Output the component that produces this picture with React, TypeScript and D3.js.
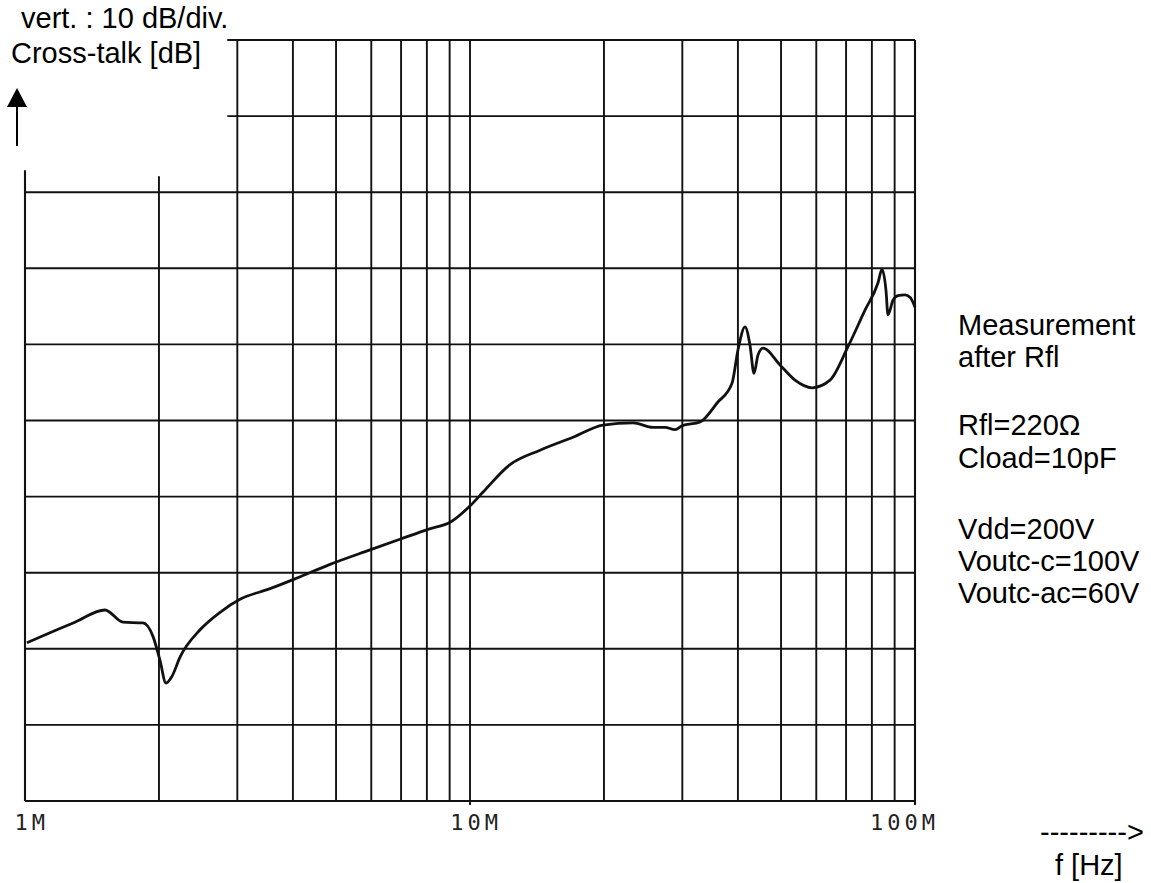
import React, { useEffect, useRef } from 'react';
import * as d3 from 'd3';

// measured cross-talk curve (frequency in MHz, level in dB, top grid line = 0 dB)
const freqMHz = [
  1.01, 1.138, 1.295, 1.513, 1.66, 1.842, 1.94, 2.01, 2.074, 2.14, 2.23, 2.474, 2.744,
  3.042, 3.553, 4.085, 4.847, 5.962, 6.962, 8.046, 9.064, 10.05, 10.7, 12.3, 14.37,
  17.04, 19.9, 23.25, 25.78, 27.43, 28.89, 29.95, 32.88, 35.91, 38.8, 40.02, 41.5,
  42.58, 43.47, 44.38, 45.54, 49.73, 53.75, 58.69, 64.42, 70.7, 77.2, 82.59, 84.3,
  86.06, 86.96, 89.24, 91.58, 94.95, 97.45, 100,
];
const crossTalkDb = [
  -79.2, -77.9, -76.5, -74.9, -76.5, -76.6, -78.4, -81.5, -84.5, -83.6, -81.1, -77.5, -75.2,
  -73.5, -72.1, -70.7, -68.9, -67.0, -65.6, -64.3, -63.3, -61.1, -59.4, -55.8, -53.9,
  -52.2, -50.6, -50.3, -50.9, -50.9, -51.2, -50.7, -50.2, -47.7, -45.1, -40.7, -37.7,
  -40.1, -43.8, -41.4, -40.5, -42.7, -44.7, -45.7, -44.7, -40.3, -35.5, -31.9, -30.1,
  -32.9, -36.1, -34.2, -33.6, -33.5, -33.8, -35.1,
];

const gridFreqs = [1, 2, 3, 4, 5, 6, 7, 8, 9, 10, 20, 30, 40, 50, 60, 70, 80, 90, 100];
const gridDb = [0, -10, -20, -30, -40, -50, -60, -70, -80, -90, -100];
const tickFreqs = [1, 10, 100];
const tickLabels = ['1M', '10M', '100M'];

const headerLines = ['vert. : 10 dB/div.', 'Cross-talk [dB]'];
const noteLines = [
  'Measurement', 'after Rfl', '', 'Rfl=220\u03A9', 'Cload=10pF', '',
  'Vdd=200V', 'Voutc-c=100V', 'Voutc-ac=60V',
];

const W = 1151;
const H = 883;

const App = () => {
  const svgRef = useRef<SVGSVGElement | null>(null);

  useEffect(() => {
    if (!svgRef.current) return;
    const svg = d3.select(svgRef.current);
    svg.selectAll('*').remove();

    const margin = { top: 40, right: 236, bottom: 82, left: 25 };
    const x = d3.scaleLog().domain([1, 100]).range([margin.left, W - margin.right]);
    const y = d3.scaleLinear().domain([-100, 0]).range([H - margin.bottom, margin.top]);

    const ink = '#111';
    const sans = 'Liberation Sans, Arial, sans-serif';
    const g = svg.append('g');

    // the upper-left corner of the plot is left open for the headings
    const leftOpenTo = x(3) - 10;

    // --- horizontal grid ---
    g.selectAll('.hgrid')
      .data(gridDb)
      .enter()
      .append('line')
      .attr('x1', d => (d > -20 ? leftOpenTo : x(1)))
      .attr('x2', x(100))
      .attr('y1', d => y(d))
      .attr('y2', d => y(d))
      .attr('stroke', ink)
      .attr('stroke-width', 1.9);

    // --- vertical grid ---
    g.selectAll('.vgrid')
      .data(gridFreqs)
      .enter()
      .append('line')
      .attr('x1', d => x(d))
      .attr('x2', d => x(d))
      .attr('y1', d => (d < 3 ? y(-20) - (d === 1 ? 22 : 16) : y(0)))
      .attr('y2', d => y(-100) + (d === 10 || d === 100 ? 4 : 0))
      .attr('stroke', ink)
      .attr('stroke-width', d => (d === 1 || d === 100 ? 2.1 : 1.9));

    // --- tick labels (plotter style) ---
    g.selectAll('.tick-label')
      .data(tickFreqs)
      .enter()
      .append('text')
      .attr('x', d => x(d) + (d === 10 ? 32 : 24))
      .attr('y', y(-100) + 29)
      .attr('text-anchor', 'end')
      .attr('font-family', 'DejaVu Sans Mono, monospace')
      .attr('font-size', 22)
      .attr('letter-spacing', 4)
      .attr('fill', '#222')
      .text((d, i) => tickLabels[i]);

    // --- curve ---
    const pts = freqMHz.map((f, i) => [f, crossTalkDb[i]] as [number, number]);
    const line = d3.line<[number, number]>()
      .curve(d3.curveMonotoneX)
      .x(d => x(d[0]))
      .y(d => y(d[1]));
    g.append('path')
      .datum(pts)
      .attr('fill', 'none')
      .attr('stroke', ink)
      .attr('stroke-width', 2.8)
      .attr('stroke-linejoin', 'round')
      .attr('d', line);

    // --- headings top left ---
    headerLines.forEach((t, i) => {
      svg.append('text')
        .attr('x', i === 0 ? 21 : 11)
        .attr('y', 28 + i * 35)
        .attr('font-family', sans)
        .attr('font-size', 29)
        .attr('fill', '#000')
        .text(t);
    });

    // vertical arrow
    svg.append('line')
      .attr('x1', 17).attr('x2', 17)
      .attr('y1', 146).attr('y2', 104)
      .attr('stroke', '#000').attr('stroke-width', 2);
    svg.append('path')
      .attr('d', 'M17,88 L27,107 L7,107 Z')
      .attr('fill', '#000');

    // --- notes right ---
    const noteY = [335, 367, 0, 435, 468, 0, 539, 571, 603];
    noteLines.forEach((t, i) => {
      if (!t) return;
      svg.append('text')
        .attr('x', 958)
        .attr('y', noteY[i])
        .attr('font-family', sans)
        .attr('font-size', 29)
        .attr('fill', '#000')
        .text(t);
    });

    // --- frequency axis caption ---
    svg.append('text')
      .attr('x', 1040).attr('y', 842)
      .attr('font-family', sans).attr('font-size', 29)
      .text('--------->');
    svg.append('text')
      .attr('x', 1055).attr('y', 875)
      .attr('font-family', sans).attr('font-size', 29)
      .text('f [Hz]');
  }, []);

  return (
    <svg
      ref={svgRef}
      width={W}
      height={H}
      style={{ position: 'absolute', left: 0, top: 0, background: '#fff' }}
    />
  );
};

export default App;
